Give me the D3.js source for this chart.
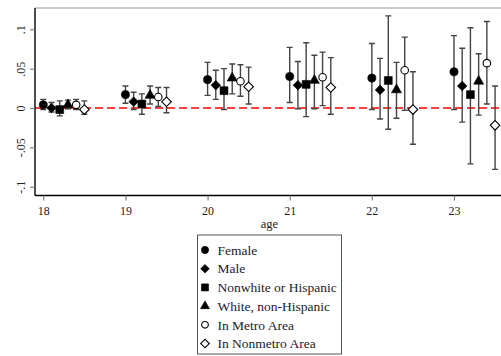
<!DOCTYPE html>
<html>
<head>
<meta charset="utf-8">
<script src="https://cdn.jsdelivr.net/npm/d3@7"></script>
<style>
  html, body { margin: 0; padding: 0; background: #fff; }
  svg { display: block; font-family: "Liberation Serif", "Times New Roman", serif; }
</style>
</head>
<body>
<div id="chart"></div>
<script>
// age groups on the x axis
const ages = [18, 19, 20, 21, 22, 23];
const groups = ['Female', 'Male', 'Nonwhite or Hispanic', 'White, non-Hispanic', 'In Metro Area', 'In Nonmetro Area'];
const yTicks = [-0.1, -0.05, 0, 0.05, 0.1];
const yTickLabels = ['-.1', '-.05', '0', '.05', '.1'];

// point estimates, one row per group, one column per age
const estimates = [
  [0.004, 0.017, 0.036, 0.040, 0.038, 0.046],
  [0.000, 0.008, 0.029, 0.029, 0.023, 0.028],
  [-0.002, 0.005, 0.022, 0.030, 0.035, 0.017],
  [0.004, 0.016, 0.038, 0.035, 0.023, 0.034],
  [0.004, 0.014, 0.034, 0.039, 0.048, 0.057],
  [-0.002, 0.008, 0.027, 0.026, -0.002, -0.022]
];
// confidence interval bounds
const lower = [
  [-0.002, 0.006, 0.016, 0.007, -0.002, -0.002],
  [-0.005, -0.002, 0.011, -0.001, -0.014, -0.018],
  [-0.010, -0.008, -0.002, -0.011, -0.027, -0.071],
  [-0.001, 0.005, 0.018, -0.001, -0.013, -0.009],
  [-0.002, 0.002, 0.015, 0.003, -0.003, 0.005],
  [-0.008, -0.006, 0.005, -0.008, -0.046, -0.078]
];
const upper = [
  [0.011, 0.028, 0.058, 0.077, 0.082, 0.092],
  [0.007, 0.020, 0.048, 0.059, 0.063, 0.076],
  [0.009, 0.018, 0.050, 0.083, 0.117, 0.102],
  [0.010, 0.028, 0.056, 0.067, 0.058, 0.069],
  [0.011, 0.026, 0.055, 0.071, 0.090, 0.110],
  [0.009, 0.026, 0.052, 0.064, 0.046, 0.028]
];

const W = 501, H = 356;
const plot = { left: 35, top: 8, right: 502, bottom: 195.5 };

const svg = d3.select('#chart').append('svg')
  .attr('width', W).attr('height', H);

const x = d3.scaleLinear().domain([18, 23]).range([43.3, 454]);
const y = d3.scaleLinear().domain([-0.1, 0.1]).range([186.7, 29.3]);

// plot frame: grey top edge, black axis lines
svg.append('line')
  .attr('x1', plot.left).attr('x2', plot.right)
  .attr('y1', plot.top).attr('y2', plot.top)
  .attr('stroke', '#9a9a9a').attr('stroke-width', 1.2);

// zero reference line
svg.append('line')
  .attr('x1', plot.left).attr('x2', plot.right)
  .attr('y1', y(0)).attr('y2', y(0))
  .attr('stroke', '#ff0000').attr('stroke-width', 1.3)
  .attr('stroke-dasharray', '8,4');

// x axis
const xAxis = svg.append('g')
  .attr('transform', `translate(0,${plot.bottom})`)
  .call(d3.axisBottom(x).tickValues(ages).tickFormat(d3.format('d')).tickSize(5).tickSizeOuter(0));
xAxis.select('.domain').attr('d', `M${plot.left},0H${plot.right}`).attr('stroke', '#000').attr('stroke-width', 1.4);
xAxis.selectAll('.tick line').attr('stroke', '#777').attr('stroke-width', 1.1);
xAxis.selectAll('.tick text')
  .attr('font-family', '"Liberation Serif", serif').attr('font-size', 12)
  .attr('fill', '#222').attr('dy', '0.95em');

// y axis with rotated labels
const yAxis = svg.append('g')
  .attr('transform', `translate(${plot.left},0)`)
  .call(d3.axisLeft(y).tickValues(yTicks).tickFormat((d, i) => yTickLabels[i]).tickSize(5).tickSizeOuter(0));
yAxis.select('.domain').attr('d', `M0,${plot.top}V${plot.bottom}`).attr('stroke', '#000').attr('stroke-width', 1.4);
yAxis.selectAll('.tick line').attr('stroke', '#777').attr('stroke-width', 1.1);
yAxis.selectAll('.tick text')
  .attr('font-family', '"Liberation Serif", serif').attr('font-size', 12)
  .attr('fill', '#222')
  .attr('x', 0).attr('dy', 0)
  .attr('text-anchor', 'middle')
  .attr('transform', 'translate(-10,0) rotate(-90)');

svg.append('text')
  .attr('x', (plot.left + plot.right) / 2 + 1).attr('y', 228)
  .attr('text-anchor', 'middle')
  .attr('font-size', 12.5).attr('fill', '#222')
  .text('age');

// marker styles per group
const markerDefs = [
  { type: d3.symbolCircle, size: 52, fill: '#000', rot: 0 },
  { type: d3.symbolSquare, size: 46, fill: '#000', rot: 45 },
  { type: d3.symbolSquare, size: 62, fill: '#000', rot: 0 },
  { type: d3.symbolTriangle, size: 44, fill: '#000', rot: 0 },
  { type: d3.symbolCircle, size: 44, fill: '#fff', rot: 0 },
  { type: d3.symbolSquare, size: 46, fill: '#fff', rot: 45 }
];

const offset = 0.1;
const cap = 3;

groups.forEach((g, gi) => {
  const m = markerDefs[gi];
  const gEl = svg.append('g').attr('class', 'series');
  ages.forEach((a, ai) => {
    const cx = x(a + gi * offset);
    const y0 = y(lower[gi][ai]), y1 = y(upper[gi][ai]);
    // confidence interval with caps
    gEl.append('path')
      .attr('d', `M${cx},${y0}V${y1}M${cx - cap},${y0}H${cx + cap}M${cx - cap},${y1}H${cx + cap}`)
      .attr('stroke', '#444').attr('stroke-width', 1.4).attr('fill', 'none');
    gEl.append('path')
      .attr('d', d3.symbol().type(m.type).size(m.size)())
      .attr('transform', `translate(${cx},${y(estimates[gi][ai])}) rotate(${m.rot})`)
      .attr('fill', m.fill)
      .attr('stroke', '#000').attr('stroke-width', m.fill === '#fff' ? 1.1 : 0.6);
  });
});

// legend box
const legend = svg.append('g').attr('transform', 'translate(197.5,235)');
legend.append('rect')
  .attr('width', 144).attr('height', 119)
  .attr('fill', '#fff').attr('stroke', '#555').attr('stroke-width', 1);

groups.forEach((g, gi) => {
  const m = markerDefs[gi];
  const ly = 15 + gi * 18.7;
  legend.append('path')
    .attr('d', d3.symbol().type(m.type).size(m.size * 0.8)())
    .attr('transform', `translate(7.5,${ly}) rotate(${m.rot})`)
    .attr('fill', m.fill)
    .attr('stroke', '#000').attr('stroke-width', m.fill === '#fff' ? 1.1 : 0.6);
  legend.append('text')
    .attr('x', 20).attr('y', ly).attr('dy', '0.35em')
    .attr('font-size', 13.5).attr('fill', '#1a1a2e')
    .text(g);
});
</script>
</body>
</html>
